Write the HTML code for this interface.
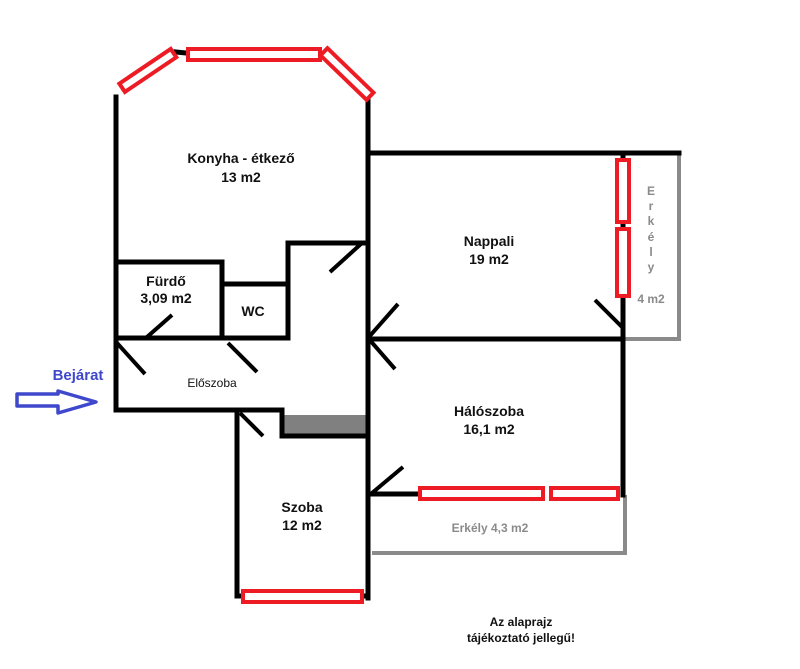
<!DOCTYPE html>
<html><head><meta charset="utf-8"><style>
html,body{margin:0;padding:0;background:#fff;}
svg{display:block;}
text{font-family:"Liberation Sans",Arial,sans-serif;}
</style></head><body>
<svg width="800" height="669" viewBox="0 0 800 669" xmlns="http://www.w3.org/2000/svg">
<rect width="800" height="669" fill="#fff"/>
<!-- gray balconies -->
<g stroke="#8a8a8a" stroke-width="4" fill="none">
<polyline points="623,153 679,153 679,339 623,339"/>
<polyline points="372,553 625,553 625,495"/>
</g>
<rect x="283" y="415" width="83" height="19" fill="#808080"/>
<!-- black walls -->
<g stroke="#000" stroke-width="5" fill="none" stroke-linecap="square">
<line x1="116" y1="97" x2="116" y2="410"/>
<line x1="368" y1="97" x2="368" y2="598"/>
<line x1="368" y1="153" x2="679" y2="153"/>
<line x1="623" y1="153" x2="623" y2="495"/>
<line x1="368" y1="339" x2="623" y2="339"/>
<line x1="368" y1="494" x2="420" y2="494"/>
<line x1="116" y1="262" x2="222" y2="262"/>
<line x1="222" y1="262" x2="222" y2="338"/>
<line x1="222" y1="284" x2="288" y2="284"/>
<line x1="288" y1="243" x2="288" y2="338"/>
<line x1="288" y1="243" x2="368" y2="243"/>
<line x1="116" y1="338" x2="288" y2="338"/>
<line x1="116" y1="410" x2="282" y2="410"/>
<line x1="282" y1="410" x2="282" y2="436"/>
<line x1="282" y1="436" x2="368" y2="436"/>
<line x1="237" y1="411" x2="237" y2="596"/>
<line x1="237" y1="596" x2="368" y2="596"/>
<line x1="176" y1="52" x2="186" y2="53"/>
</g>
<!-- doors -->
<g stroke="#000" stroke-width="4" fill="none">
<line x1="172" y1="315" x2="147" y2="337"/>
<line x1="117" y1="343" x2="145" y2="374"/>
<line x1="228" y1="343" x2="257" y2="372"/>
<line x1="330" y1="272" x2="362" y2="243"/>
<line x1="368" y1="338" x2="398" y2="304"/>
<line x1="368" y1="338" x2="395" y2="369"/>
<line x1="595" y1="300" x2="622" y2="327"/>
<line x1="372" y1="493" x2="403" y2="467"/>
<line x1="240" y1="413" x2="263" y2="436"/>
</g>
<!-- windows -->
<g stroke="#ed1c24" stroke-width="4" fill="#fff">
<rect x="188" y="49" width="132" height="11"/>
<rect x="-30" y="-5" width="62" height="10" transform="translate(147,71) rotate(-34)"/>
<rect x="-32" y="-5" width="64" height="10" transform="translate(347,74) rotate(44)"/>
<rect x="617" y="160" width="12" height="62"/>
<rect x="617" y="229" width="12" height="67"/>
<rect x="420" y="488" width="123" height="11"/>
<rect x="551" y="488" width="67" height="11"/>
<rect x="243" y="591" width="119" height="11"/>
</g>
<!-- arrow -->
<polygon points="17,394 58,394 58,391 96,402 58,413 58,406 17,406" fill="#fff" stroke="#3f48cc" stroke-width="3.5" stroke-linejoin="round"/>
<!-- labels -->
<g font-weight="bold" font-size="14" text-anchor="middle" fill="#111">
<text x="241" y="163">Konyha - étkező</text>
<text x="241" y="182">13 m2</text>
<text x="166" y="286">Fürdő</text>
<text x="166" y="303">3,09 m2</text>
<text x="253" y="316">WC</text>
<text x="489" y="246">Nappali</text>
<text x="489" y="264">19 m2</text>
<text x="489" y="416">Hálószoba</text>
<text x="489" y="434">16,1 m2</text>
<text x="302" y="512">Szoba</text>
<text x="302" y="530">12 m2</text>
</g>
<text x="212" y="387" font-size="12" text-anchor="middle" fill="#111">Előszoba</text>
<text x="78" y="380" font-size="15" font-weight="bold" text-anchor="middle" fill="#3f48cc">Bejárat</text>
<g font-size="12" font-weight="bold" text-anchor="middle" fill="#111">
<text x="521" y="626">Az alaprajz</text>
<text x="521" y="642">tájékoztató jellegű!</text>
</g>
<g font-size="12" font-weight="bold" text-anchor="middle" fill="#8a8a8a">
<text x="490" y="532">Erkély 4,3 m2</text>
<text x="651" y="195">E</text>
<text x="651" y="210">r</text>
<text x="651" y="225">k</text>
<text x="651" y="241">é</text>
<text x="651" y="256">l</text>
<text x="651" y="271">y</text>
<text x="651" y="303">4 m2</text>
</g>
</svg>
</body></html>
